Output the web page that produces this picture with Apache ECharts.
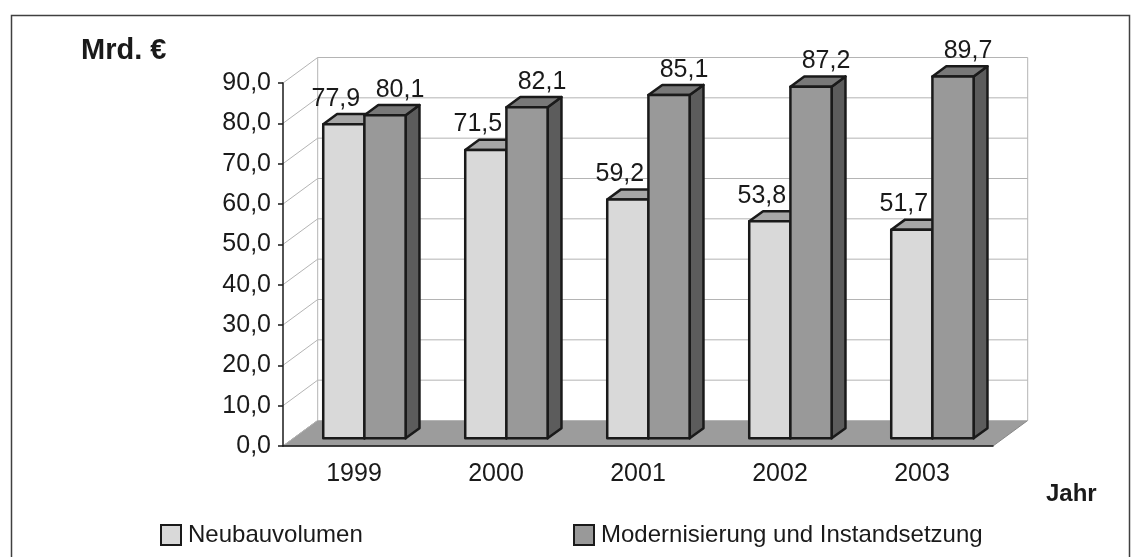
<!DOCTYPE html>
<html>
<head>
<meta charset="utf-8">
<script src="https://cdn.jsdelivr.net/npm/echarts@6/dist/echarts.min.js"></script>
<style>
	html, body { margin: 0; padding: 0; background: #fff; }
	#chart { width: 1140px; height: 557px; }
</style>
</head>
<body>
<div id="chart"></div>
<script>
const years = ['1999', '2000', '2001', '2002', '2003'];
const neubau = [77.9, 71.5, 59.2, 53.8, 51.7];
const modernisierung = [80.1, 82.1, 85.1, 87.2, 89.7];
const seriesNames = ['Neubauvolumen', 'Modernisierung und Instandsetzung'];
const yTicks = [0, 10, 20, 30, 40, 50, 60, 70, 80, 90];
const yTickLabels = ['0,0', '10,0', '20,0', '30,0', '40,0', '50,0', '60,0', '70,0', '80,0', '90,0'];

// pseudo 3D: offset of the back wall in px, bar depth as fractions of it
const DEPTH = [34.7, -25.5];
const BAR_FRONT = 0.3;
const BAR_BACK = 0.7;
const BAR_WIDTH = 0.29;
const TEXT = '#1a1a1a';
const FONT = '"Liberation Sans", Arial, sans-serif';
const GRID_LINE = '#b4b4b4';

const faces = [
	{ front: '#d9d9d9', top: '#a6a6a6', side: '#bfbfbf', labelDx: -8 },
	{ front: '#999999', top: '#787878', side: '#5c5c5c', labelDx: 15 }
];

function fmt(v) {
	return v.toFixed(1).replace('.', ',');
}

function line(x1, y1, x2, y2, color) {
	return {
		type: 'line',
		shape: { x1: x1, y1: y1, x2: x2, y2: y2 },
		style: { stroke: color, lineWidth: 1 }
	};
}

function renderFrame(params, api) {
	const band = api.size([1, 0])[0];
	const left = api.coord([0, 0])[0] - band / 2;
	const right = api.coord([years.length - 1, 0])[0] + band / 2;
	const y0 = api.coord([0, 0])[1];
	const yTop = api.coord([0, yTicks[yTicks.length - 1]])[1];
	const dx = DEPTH[0], dy = DEPTH[1];

	const children = [{
		type: 'polygon',
		shape: { points: [[left, y0], [right, y0], [right + dx, y0 + dy], [left + dx, y0 + dy]] },
		style: { fill: '#9c9c9c', stroke: '#888888', lineWidth: 1 }
	}];
	yTicks.forEach(v => {
		const y = api.coord([0, v])[1];
		children.push(line(left + dx, y + dy, right + dx, y + dy, GRID_LINE));
		children.push(line(left, y, left + dx, y + dy, GRID_LINE));
	});
	children.push(line(left + dx, yTop + dy, left + dx, y0 + dy, GRID_LINE));
	children.push(line(right + dx, yTop + dy, right + dx, y0 + dy, GRID_LINE));
	return { type: 'group', children: children };
}

function barRenderer(s) {
	const face = faces[s];
	return function (params, api) {
		const i = api.value(0);
		const v = api.value(1);
		const top = api.coord([i, v]);
		const base = api.coord([i, 0]);
		const w = api.size([1, 0])[0] * BAR_WIDTH;
		const fx = BAR_FRONT * DEPTH[0], fy = BAR_FRONT * DEPTH[1];
		const dx = (BAR_BACK - BAR_FRONT) * DEPTH[0];
		const dy = (BAR_BACK - BAR_FRONT) * DEPTH[1];
		const x0 = top[0] + fx + (s - 1) * w;
		const x1 = x0 + w;
		const yt = top[1] + fy;
		const yb = base[1] + fy;
		const edge = { stroke: '#1a1a1a', lineWidth: 2.5, lineJoin: 'round' };

		return {
			type: 'group',
			children: [
				{
					type: 'polygon',
					shape: { points: [[x1, yt], [x1 + dx, yt + dy], [x1 + dx, yb + dy], [x1, yb]] },
					style: Object.assign({ fill: face.side }, edge)
				},
				{
					type: 'polygon',
					shape: { points: [[x0, yt], [x1, yt], [x1 + dx, yt + dy], [x0 + dx, yt + dy]] },
					style: Object.assign({ fill: face.top }, edge)
				},
				{
					type: 'polygon',
					shape: { points: [[x0, yt], [x1, yt], [x1, yb], [x0, yb]] },
					style: Object.assign({ fill: face.front }, edge)
				},
				{
					type: 'text',
					style: {
						text: fmt(v),
						x: (x0 + x1) / 2 + face.labelDx,
						y: yt - 13,
						align: 'center',
						verticalAlign: 'bottom',
						fontSize: 25,
						fontFamily: FONT,
						fill: TEXT
					}
				}
			]
		};
	};
}

const chart = echarts.init(document.getElementById('chart'), null, { renderer: 'canvas' });

const legendBase = {
	orient: 'horizontal',
	top: 523,
	icon: 'rect',
	itemWidth: 20,
	itemHeight: 20,
	itemGap: 0,
	padding: 0,
	selectedMode: false,
	itemStyle: { borderColor: '#1a1a1a', borderWidth: 2 },
	textStyle: { color: TEXT, fontSize: 24, fontFamily: FONT, padding: [0, 0, 0, 2] }
};

chart.setOption({
	animation: false,
	backgroundColor: '#fff',
	title: [
		{
			text: 'Mrd. €', left: 81, top: 36, padding: 0,
			textStyle: { fontSize: 29, fontWeight: 'bold', fontFamily: FONT, color: TEXT }
		},
		{
			text: 'Jahr', left: 1046, top: 482, padding: 0,
			textStyle: { fontSize: 24, fontWeight: 'bold', fontFamily: FONT, color: TEXT }
		}
	],
	legend: [
		Object.assign({ left: 160, data: [seriesNames[0]] }, legendBase),
		Object.assign({ left: 573, data: [seriesNames[1]] }, legendBase)
	],
	graphic: [{
		type: 'rect',
		shape: { x: 11.5, y: 15.5, width: 1118, height: 600 },
		style: { fill: 'none', stroke: '#404040', lineWidth: 1.5 },
		silent: true
	}],
	grid: { left: 283, right: 147, top: 83, bottom: 111 },
	xAxis: {
		type: 'category',
		data: years,
		z: 5,
		axisLine: { lineStyle: { color: '#1a1a1a', width: 1.5 } },
		axisTick: { length: 6, lineStyle: { color: '#1a1a1a', width: 1.5 } },
		axisLabel: { margin: 16, fontSize: 25, fontFamily: FONT, color: TEXT }
	},
	yAxis: {
		type: 'value',
		min: 0,
		max: 90,
		interval: 10,
		z: 5,
		splitLine: { show: false },
		axisLine: { show: true, lineStyle: { color: '#1a1a1a', width: 1.5 } },
		axisTick: { show: true, length: 5, lineStyle: { color: '#1a1a1a', width: 1.5 } },
		axisLabel: {
			margin: 12, fontSize: 25, fontFamily: FONT, color: TEXT,
			formatter: v => yTickLabels[yTicks.indexOf(v)]
		}
	},
	series: [
		{
			type: 'custom',
			name: 'frame',
			z: 0,
			silent: true,
			clip: false,
			renderItem: renderFrame,
			data: [[0, 0]]
		},
		{
			type: 'custom',
			name: seriesNames[0],
			z: 2,
			clip: false,
			itemStyle: { color: faces[0].front },
			renderItem: barRenderer(0),
			data: neubau.map((v, i) => [i, v])
		},
		{
			type: 'custom',
			name: seriesNames[1],
			z: 2,
			clip: false,
			itemStyle: { color: faces[1].front },
			renderItem: barRenderer(1),
			data: modernisierung.map((v, i) => [i, v])
		}
	]
});
</script>
</body>
</html>
